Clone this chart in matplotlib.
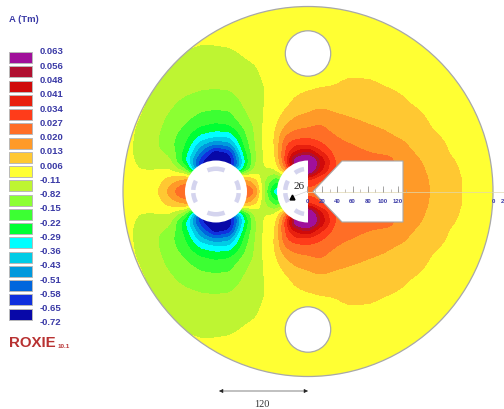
#!/usr/bin/env python3
# Contour map of the vector potential in a twin aperture yoke, ROXIE style.
# The drawing is laid out in picture pixels; the field is read by eye on a
# coarse grid of the upper half and mirrored about the mid plane.

import numpy as np
import matplotlib
matplotlib.use("Agg")
import matplotlib.pyplot as plt
from matplotlib.patches import Circle, Polygon, Rectangle, Wedge

# Legend, top to bottom
legend_labels = ["0.063", "0.056", "0.048", "0.041", "0.034", "0.027", "0.020",
                 "0.013", "0.006", "-0.11", "-0.82", "-0.15", "-0.22", "-0.29",
                 "-0.36", "-0.43", "-0.51", "-0.58", "-0.65", "-0.72"]
band_colors = ["#A0109A", "#B01030", "#D00A0A", "#E8200E", "#FF3C1A", "#FF6E26",
               "#FF9A28", "#FFC832", "#FFFF33", "#BEF532", "#8CFF33", "#3CFF33",
               "#00FF33", "#00FFFF", "#00CCE6", "#0099DD", "#0066DD", "#1030DD",
               "#0808A8"]

# Grid nodes in pixels
x_nodes = [120, 140, 155, 170, 185, 200, 215, 230, 245, 255, 265, 275, 285, 295,
           307, 320, 335, 350, 370, 390, 410, 430, 450, 470, 495]
y_nodes = [5, 30, 46, 65, 90, 105, 118, 128, 138, 146, 154, 162, 170, 180, 192.5]

# Band position at each node: 0 is the darkest blue band, 18 the purple one.
# One list per x node, following y_nodes from the top to the mid plane.
band_x120 = [10.8, 10.8, 10.7, 10.7, 10.6, 10.6, 10.5, 10.5, 10.5, 10.5, 10.5, 10.5, 10.5, 10.5, 10.5]
band_x140 = [11.0, 10.9, 10.8, 10.6, 10.3, 10.15, 10.0, 9.85, 9.75, 9.7, 9.7, 9.8, 9.98, 10.2, 10.3]
band_x155 = [11.0, 10.7, 10.5, 10.25, 9.95, 9.7, 9.45, 9.3, 9.2, 9.15, 9.3, 9.6, 9.95, 10.4, 10.6]
band_x170 = [11.0, 10.5, 10.3, 9.95, 9.45, 9.15, 8.8, 8.55, 8.35, 8.3, 8.75, 9.2, 9.9, 11.3, 12.5]
band_x185 = [10.8, 10.4, 10.1, 9.7, 9.25, 8.7, 8.25, 7.85, 7.35, 7.0, 6.5, 6.1, 8.0, 12.0, 14.5]
band_x200 = [10.6, 10.25, 10.0, 9.55, 9.05, 8.4, 7.75, 6.95, 5.6, 4.2, 2.8, 1.4, 1.0, 12.0, 14.0]
band_x215 = [10.7, 10.3, 10.0, 9.6, 9.0, 8.35, 7.5, 6.6, 5.0, 2.6, 0.0, -1, -1, -1, -1]
band_x230 = [10.7, 10.3, 10.05, 9.65, 9.05, 8.4, 7.65, 6.8, 5.0, 3.4, 0.9, 0.0, 0.5, 12.0, 14.0]
band_x245 = [10.7, 10.4, 10.2, 9.9, 9.45, 9.15, 8.8, 8.2, 7.7, 7.3, 6.7, 5.9, 6.5, 12.0, 14.5]
band_x255 = [10.8, 10.5, 10.3, 10.0, 9.7, 9.5, 9.3, 9.15, 9.05, 9.0, 8.85, 8.9, 9.3, 11.0, 13.0]
band_x265 = [11.0, 10.7, 10.5, 10.2, 10.0, 10.05, 10.15, 10.25, 10.3, 10.3, 10.3, 10.2, 10.0, 9.0, 8.5]
band_x275 = [11.0, 10.7, 10.55, 10.45, 10.35, 10.4, 10.6, 10.85, 11.0, 10.95, 10.85, 10.6, 10.0, 7.5, 5.0]
band_x285 = [10.7, 10.6, 10.5, 10.5, 10.5, 10.75, 11.3, 12.05, 13.05, 13.7, 14.0, 14.0, 12.5, 8.0, 5.0]
band_x295 = [10.7, 10.6, 10.5, 10.5, 10.75, 11.2, 12.0, 12.7, 13.6, 14.8, 16.2, 19.0, 17.0, 13.0, 10.0]
band_x307 = [10.7, 10.6, 10.6, 10.7, 10.9, 11.5, 12.2, 12.9, 13.8, 14.9, 17.2, 21.0, 21.0, 15.0, 13.5]
band_x320 = [10.6, 10.5, 10.5, 10.65, 11.0, 11.7, 12.55, 13.15, 13.6, 14.2, 15.3, 17.0, 16.5, 14.0, 13.5]
band_x335 = [10.5, 10.5, 10.55, 10.7, 11.05, 11.65, 12.15, 12.6, 13.05, 13.3, 13.6, 13.9, 13.8, 13.5, 13.5]
band_x350 = [10.4, 10.4, 10.55, 10.75, 11.2, 11.65, 11.97, 12.3, 12.7, 13.05, 13.3, 13.6, 13.6, 13.6, 13.6]
band_x370 = [10.3, 10.4, 10.55, 10.75, 11.15, 11.5, 11.8, 12.05, 12.4, 12.7, 13.0, 13.4, 13.5, 13.5, 13.5]
band_x390 = [10.2, 10.3, 10.4, 10.6, 11.0, 11.35, 11.65, 11.85, 12.07, 12.5, 12.85, 13.2, 13.2, 13.2, 13.2]
band_x410 = [10.1, 10.2, 10.3, 10.45, 10.8, 11.0, 11.3, 11.55, 11.75, 11.92, 12.1, 12.3, 12.4, 12.5, 12.5]
band_x430 = [10.1, 10.1, 10.2, 10.35, 10.6, 10.75, 10.9, 11.0, 11.2, 11.4, 11.6, 11.75, 11.85, 11.95, 12.0]
band_x450 = [10.1, 10.1, 10.1, 10.2, 10.35, 10.5, 10.6, 10.7, 10.8, 10.9, 10.95, 11.15, 11.3, 11.4, 11.45]
band_x470 = [10.1, 10.1, 10.1, 10.1, 10.2, 10.25, 10.3, 10.35, 10.4, 10.45, 10.5, 10.55, 10.6, 10.7, 10.7]
band_x495 = [10.2, 10.2, 10.2, 10.2, 10.2, 10.2, 10.2, 10.2, 10.2, 10.2, 10.2, 10.2, 10.2, 10.2, 10.2]

band_columns = [band_x120, band_x140, band_x155, band_x170, band_x185, band_x200,
                band_x215, band_x230, band_x245, band_x255, band_x265, band_x275,
                band_x285, band_x295, band_x307, band_x320, band_x335, band_x350,
                band_x370, band_x390, band_x410, band_x430, band_x450, band_x470,
                band_x495]

scale_ticks = [0, 20, 40, 60, 80, 100, 120]
scale_labels = ["0", "20", "40", "60", "80", "100", "120"]

NAVY = "#3A3AA6"
LAVENDER = "#D4D4EE"
EDGE = "#A8A8A8"
MID_Y = 192.5
YOKE_X, YOKE_R = 308, 185
HOLE_R = 22.7
PIPE_R = 31
LEFT_X, RIGHT_X = 216, 308
SMOOTH_PX = 2.5


# Blur along one axis so the coarse table gives round contour lines.
def smooth_axis(values, sigma, axis):
    half = int(3 * sigma)
    kernel = np.exp(-0.5 * (np.arange(-half, half + 1) / sigma) ** 2)
    kernel /= kernel.sum()
    pad = [(half, half) if i == axis else (0, 0) for i in range(2)]
    padded = np.pad(values, pad, mode="edge")
    return np.apply_along_axis(lambda v: np.convolve(v, kernel, mode="valid"), axis, padded)


# Mirror the upper half table about the mid plane and resample it to 1 px.
def build_field():
    upper = np.array(band_columns).T
    y_all = np.array(y_nodes + [2 * MID_Y - y for y in y_nodes[-2::-1]])
    z_all = np.vstack([upper, upper[-2::-1]])
    xf = np.arange(120, 496, 1.0)
    yf = np.arange(5, 381, 1.0)
    by_row = np.array([np.interp(xf, x_nodes, row) for row in z_all])
    zf = np.array([np.interp(yf, y_all, col) for col in by_row.T]).T
    zf = smooth_axis(smooth_axis(zf, SMOOTH_PX, 0), SMOOTH_PX, 1)
    return xf, yf, np.clip(zf, 0.01, 18.99)


# Small coil blocks sitting inside an aperture.
def draw_coil(ax, cx, spans):
    for a0, a1 in spans:
        ax.add_patch(Wedge((cx, MID_Y), 25, a0, a1, width=4.5, fc=LAVENDER, ec="none", zorder=5))


def main():
    fig = plt.figure(figsize=(5.04, 4.10), dpi=100)
    ax = fig.add_axes([0, 0, 1, 1])
    ax.set_xlim(0, 504)
    ax.set_ylim(410, 0)
    ax.axis("off")
    plt.rcParams["font.family"] = ["Liberation Sans", "DejaVu Sans"]

    # Field, clipped to the yoke outline
    xf, yf, zf = build_field()
    fills = ax.contourf(xf, yf, zf, levels=np.arange(0, 20), colors=band_colors[::-1], zorder=1)
    yoke = Circle((YOKE_X, MID_Y), YOKE_R, transform=ax.transData, fc="none", ec=EDGE, lw=0.9, zorder=4)
    ax.add_patch(yoke)
    fills.set_clip_path(yoke)

    # Holes, apertures and the white iron-free wedge
    for hole_y in (54.5, 330.5):
        ax.add_patch(Circle((308, hole_y), HOLE_R, fc="white", ec=EDGE, lw=0.9, zorder=3))
    ax.add_patch(Circle((LEFT_X, MID_Y), PIPE_R, fc="white", ec="none", zorder=3))
    ax.add_patch(Wedge((RIGHT_X, MID_Y), PIPE_R, 90, 270, fc="white", ec="none", zorder=3))
    wedge_xy = [(313, MID_Y), (342, 162), (403, 162), (403, 223), (342, 223)]
    ax.add_patch(Polygon(wedge_xy, closed=True, fc="white", ec=EDGE, lw=0.8, zorder=3))

    draw_coil(ax, LEFT_X, [(68, 112), (248, 292), (152, 176), (184, 208), (-28, -4), (4, 28)])
    draw_coil(ax, RIGHT_X, [(100, 125), (235, 260), (152, 176), (184, 208)])

    # Horizontal scale along the mid plane
    ax.plot([307, 504], [MID_Y, MID_Y], color="#E0D8B0", lw=0.5, zorder=6)
    minor = np.arange(0, 140, 10)
    ax.vlines(307 + 0.76 * minor, MID_Y - 3, MID_Y, color="#B0A8A0", lw=0.5, zorder=6)
    ax.vlines(307 + 0.76 * np.array(scale_ticks), MID_Y - 6, MID_Y, color="#989898", lw=0.6, zorder=6)
    for tick, label in zip(scale_ticks, scale_labels):
        ax.text(307 + 0.76 * tick, 202, label, color=NAVY, fontsize=4.3, fontweight="bold",
                ha="center", va="center", zorder=6)
    ax.text(493, 202, "0", color=NAVY, fontsize=4.3, fontweight="bold", ha="center", va="center", zorder=6)
    ax.text(503, 202, "2", color=NAVY, fontsize=4.3, fontweight="bold", ha="center", va="center", zorder=6)

    # Dimension marks
    ax.text(299, 187, "26", family="Liberation Serif", fontsize=8, color="#222222",
            ha="center", va="center", zorder=7)
    ax.plot([292], [198], marker="^", ms=3.5, color="black", zorder=7)
    ax.plot([292, 308], [198, 192], color="#CCCCCC", lw=0.4, zorder=6)
    ax.annotate("", xy=(219, 392), xytext=(308, 392),
                arrowprops=dict(arrowstyle="<|-|>", color="#222222", lw=0.4, mutation_scale=6,
                                shrinkA=0, shrinkB=0))
    ax.text(262, 405, "120", family="Liberation Serif", fontsize=7.5, color="#333333",
            ha="center", va="center")

    # Legend column
    ax.text(9, 20, "A (Tm)", color=NAVY, fontsize=6.8, fontweight="bold", va="center")
    for i, color in enumerate(band_colors):
        ax.add_patch(Rectangle((9, 53 + 14.26 * i), 23, 11, fc=color, ec="#B8B8B8", lw=0.7))
    for i, label in enumerate(legend_labels):
        ax.text(40, 52 + 14.26 * i, label, color=NAVY, fontsize=6.8, fontweight="bold", va="center")

    ax.text(8.5, 343, "ROXIE", color="#B83232", fontsize=10.8, fontweight="bold", va="center")
    ax.text(58, 346.5, "10.1", color="#B83232", fontsize=4.5, fontweight="bold", va="center")

    fig.savefig("out.png", dpi=100)


if __name__ == "__main__":
    main()
